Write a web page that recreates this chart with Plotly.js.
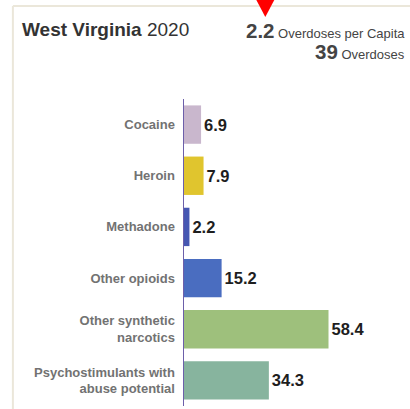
<!DOCTYPE html>
<html>
<head>
<meta charset="utf-8">
<script src="https://cdn.plot.ly/plotly-3.0.1.min.js"></script>
<style>
html,body{margin:0;padding:0;background:#fff;}
#chart{width:410px;height:409px;}
</style>
</head>
<body>
<div id="chart"></div>
<script>
var categories = ["Cocaine", "Heroin", "Methadone", "Other opioids", "Other synthetic<br>narcotics", "Psychostimulants with<br>abuse potential"];
var values = [6.9, 7.9, 2.2, 15.2, 58.4, 34.3];
var valueLabels = ["6.9", "7.9", "2.2", "15.2", "58.4", "34.3"];
var barColors = ["#c9b7cd", "#e0c52e", "#4657b2", "#4a6dc0", "#9ec07c", "#87b49e"];
var stateName = "West Virginia";
var year = "2020";
var perCapita = "2.2";
var overdoses = "39";

var W = 410, H = 409;
var L = 183.5, R = 10, T = 99, B = 3;
var plotW = W - L - R, plotH = H - T - B;
function px(x){ return (x - L) / plotW; }
function py(y){ return (H - B - y) / plotH; }

var trace = {
  type: "bar",
  orientation: "h",
  y: categories,
  x: values,
  text: valueLabels,
  textposition: "outside",
  cliponaxis: false,
  textfont: {family: "Liberation Sans, Arial, sans-serif", size: 16.5, color: "#1e1e1e", weight: "bold"},
  marker: {color: barColors},
  hoverinfo: "none"
};

var layout = {
  width: W, height: H,
  margin: {l: L, r: R, t: T, b: B, pad: 0},
  paper_bgcolor: "#ffffff",
  plot_bgcolor: "#ffffff",
  showlegend: false,
  bargap: 0.25,
  xaxis: {range: [0, plotW / 2.48], visible: false, fixedrange: true},
  yaxis: {
    autorange: "reversed",
    showline: true, linecolor: "#6c5faa", linewidth: 1.5,
    showgrid: false, zeroline: false, ticks: "",
    ticklabelstandoff: 5,
    tickfont: {family: "Liberation Sans, Arial, sans-serif", size: 13, color: "#727272", weight: "bold"},
    fixedrange: true
  },
  shapes: [
    {type: "line", xref: "paper", yref: "paper", x0: px(12), x1: px(410), y0: py(6), y1: py(6), line: {color: "#ebe7da", width: 2}},
    {type: "line", xref: "paper", yref: "paper", x0: px(12), x1: px(12), y0: py(6), y1: py(409), line: {color: "#ebe7da", width: 2}},
    {type: "path", xref: "paper", yref: "paper",
     path: "M " + px(256) + " " + py(0) + " L " + px(274) + " " + py(0) + " L " + px(265) + " " + py(17) + " Z",
     fillcolor: "#ff0000", line: {width: 0}}
  ],
  annotations: [
    {xref: "paper", yref: "paper", x: px(19), y: py(30), xanchor: "left", yanchor: "middle", showarrow: false,
     text: "<b>" + stateName + "</b> " + year,
     font: {family: "Liberation Sans, Arial, sans-serif", size: 19, color: "#333333"}},
    {xref: "paper", yref: "paper", x: px(407), y: py(31), xanchor: "right", yanchor: "middle", showarrow: false,
     text: "<b><span style='font-size:20.5px'>" + perCapita + "</span></b> Overdoses per Capita",
     font: {family: "Liberation Sans, Arial, sans-serif", size: 13, color: "#444444"}},
    {xref: "paper", yref: "paper", x: px(407), y: py(52), xanchor: "right", yanchor: "middle", showarrow: false,
     text: "<b><span style='font-size:20.5px'>" + overdoses + "</span></b> Overdoses",
     font: {family: "Liberation Sans, Arial, sans-serif", size: 13, color: "#444444"}}
  ]
};

Plotly.newPlot("chart", [trace], layout, {displayModeBar: false, staticPlot: true});
</script>
</body>
</html>
